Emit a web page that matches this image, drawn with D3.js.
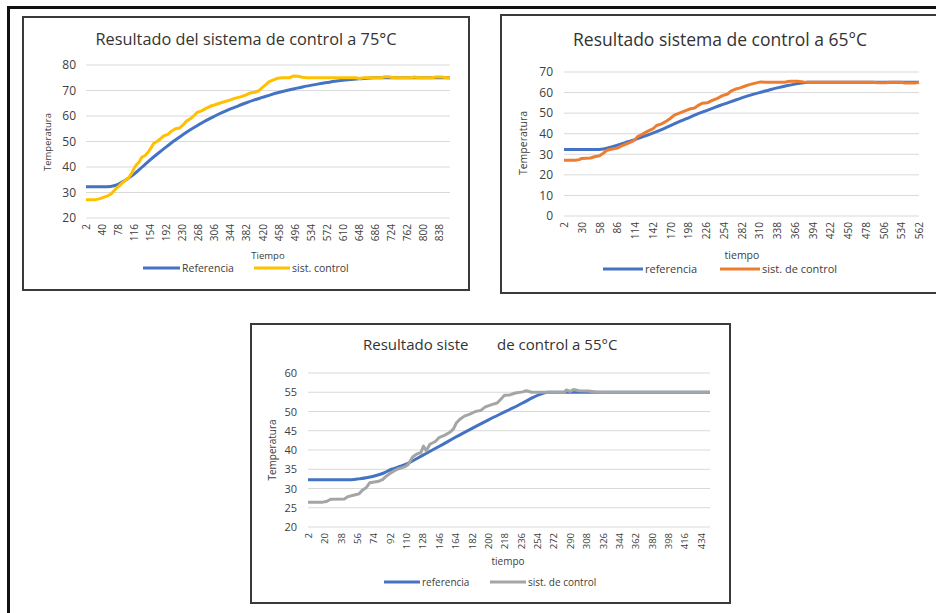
<!DOCTYPE html>
<html><head><meta charset="utf-8">
<script src="https://cdn.jsdelivr.net/npm/d3@7"></script>
<style>
html,body{margin:0;padding:0;background:#fff;}
svg{display:block;font-family:"Open Sans",sans-serif;}
</style></head>
<body>
<svg id="c" width="936" height="613"></svg>
<script>
// ---------- DATA ----------
const ticks75 = [2,40,78,116,154,192,230,268,306,344,382,420,458,496,534,572,610,648,686,724,762,800,838];
const yTicks75 = [20,30,40,50,60,70,80];
const ref75 = [[2,32.3],[40,32.3],[60,32.4],[78,33.2],[95,34.8],[116,37.2],[135,40],[154,42.8],[173,45.4],[192,47.9],[211,50.3],[230,52.5],[249,54.6],[268,56.5],[287,58.3],[306,59.9],[325,61.4],[344,62.8],[363,64],[382,65.2],[401,66.3],[420,67.3],[439,68.3],[458,69.2],[477,70],[496,70.7],[515,71.4],[534,72],[553,72.6],[572,73.1],[591,73.6],[610,74],[629,74.3],[648,74.6],[667,74.8],[686,75],[864,75]];
const ctl75 = [[2,27.2],[25,27.2],[35,27.6],[45,28.2],[55,28.8],[62,29.5],[70,31],[78,32.2],[86,33.5],[95,34.8],[102,35.5],[110,37.5],[116,39.5],[122,41],[128,42],[134,43.8],[142,44.5],[150,46],[156,47.5],[162,49.2],[170,50],[178,51],[186,52.2],[196,52.8],[204,54],[214,55],[224,55.3],[232,56.5],[240,58],[250,59],[258,60.2],[266,61.5],[276,62],[286,63],[296,63.8],[306,64.3],[318,65],[330,65.6],[344,66.3],[356,67],[368,67.5],[380,68.2],[390,69],[402,69.3],[412,70],[420,71.2],[428,72.3],[436,73.5],[446,74.2],[456,74.8],[466,75],[484,75],[494,75.7],[504,75.6],[514,75.2],[524,75],[640,75],[650,74.7],[660,75],[700,75],[710,75.4],[720,75.4],[730,75],[770,75],[780,75.3],[790,75],[820,75],[830,75.3],[845,75.3],[855,75],[864,75]];

const ticks65 = [2,30,58,86,114,142,170,198,226,254,282,310,338,366,394,422,450,478,506,534,562];
const yTicks65 = [0,10,20,30,40,50,60,70];
const ref65 = [[2,32.3],[50,32.3],[64,32.6],[77,33.6],[90,34.8],[103,36.1],[116,37.4],[129,38.8],[142,40.3],[156,42],[169,43.8],[182,45.6],[195,47.3],[208,49],[221,50.6],[235,52.2],[248,53.7],[261,55.1],[274,56.5],[287,57.9],[300,59.1],[314,60.3],[327,61.4],[340,62.4],[353,63.3],[366,64.1],[376,64.6],[386,65],[562,65]];
const ctl65 = [[2,27.1],[20,27.1],[26,27.4],[30,28],[44,28.2],[50,28.8],[58,29.3],[64,30.5],[70,32],[78,32.6],[86,33],[92,34],[100,35],[108,36],[114,37],[118,38.6],[124,39.5],[130,40.5],[136,41.5],[142,42.3],[148,44],[156,44.8],[164,46.2],[170,47.5],[176,49],[184,50],[192,51],[200,52],[208,52.5],[214,53.8],[220,54.8],[228,55],[236,56.2],[244,57.2],[252,58.5],[260,59.3],[266,60.8],[272,61.6],[280,62.3],[288,63.2],[296,64],[304,64.6],[312,65.2],[320,65],[350,65],[358,65.5],[370,65.5],[380,65.2],[390,65],[490,65],[496,64.8],[510,64.8],[516,65],[534,65],[540,64.6],[556,64.6],[562,65]];

const ticks55 = [2,20,38,56,74,92,110,128,146,164,182,200,218,236,254,272,290,308,326,344,362,380,398,416,434];
const yTicks55 = [20,25,30,35,40,45,50,55,60];
const ref55 = [[2,32.3],[50,32.3],[58,32.5],[66,32.8],[74,33.2],[84,33.9],[94,35],[104,35.8],[114,36.8],[128,38.6],[146,40.9],[164,43.3],[183,45.7],[201,47.9],[220,50.1],[238,52.2],[249,53.6],[258,54.5],[266,55],[444,55]];
const ctl55 = [[2,26.4],[17,26.4],[22,26.6],[27,27.2],[42,27.3],[46,27.9],[53,28.3],[58,28.6],[62,29.6],[66,30.2],[70,31.5],[80,31.9],[84,32.3],[88,33.2],[94,34.2],[100,35],[108,35.6],[112,36.2],[117,38.2],[122,39],[126,39.3],[129,41],[132,39.8],[136,41.5],[142,42.2],[146,43.2],[152,43.8],[158,44.6],[162,45.5],[165,47],[169,48],[174,48.8],[180,49.3],[186,50],[192,50.3],[197,51.2],[204,51.8],[210,52.2],[214,53.2],[218,54.2],[224,54.3],[230,54.8],[238,55.1],[242,55.4],[248,55],[284,55],[286,55.6],[290,55.2],[294,55.7],[300,55.4],[310,55.3],[320,55],[444,55]];

// ---------- DRAW ----------
const svg = d3.select("#c");
const TXT = "#404040";

function drawChart(o){
  const g = svg.append("g");
  g.append("rect").attr("x",o.box[0]).attr("y",o.box[1]).attr("width",o.box[2]-o.box[0]).attr("height",o.box[3]-o.box[1])
    .attr("fill","#fff").attr("stroke","#3a3a3a").attr("stroke-width",2);
  const x = d3.scaleLinear().domain(o.xDom).range([o.plot[0],o.plot[1]]);
  const y = d3.scaleLinear().domain(o.yDom).range([o.plot[3],o.plot[2]]);
  // grid
  g.append("g").selectAll("line").data(o.yTicks).join("line")
    .attr("x1",o.plot[0]).attr("x2",o.plot[1]).attr("y1",d=>y(d)).attr("y2",d=>y(d))
    .attr("stroke","#d9d9d9").attr("stroke-width",1);
  // y axis labels
  const ya = d3.axisLeft(y).tickValues(o.yTicks).tickSize(0).tickPadding(o.yPad);
  const yg = g.append("g").attr("transform",`translate(${o.plot[0]},0)`).call(ya);
  yg.select(".domain").remove();
  yg.selectAll("text").attr("fill",TXT).style("font-size",o.yFs+"px").style("font-family","Open Sans");
  // x axis labels (rotated)
  const xa = d3.axisBottom(x).tickValues(o.xTicks).tickSize(0).tickFormat(d3.format("d"));
  const xg = g.append("g").attr("transform",`translate(0,${o.plot[3]})`).call(xa);
  xg.select(".domain").remove();
  xg.selectAll("text").attr("fill",TXT).style("font-size",o.xFs+"px").style("font-family","Open Sans")
    .attr("text-anchor","end").attr("dy","0.35em").attr("y",0)
    .attr("transform",`translate(0,${o.xPad}) rotate(-90)`).attr("x",0);
  // lines
  const line = d3.line().x(d=>x(d[0])).y(d=>y(d[1]));
  const lineS = d3.line().x(d=>x(d[0])).y(d=>y(d[1])).curve(d3.curveMonotoneX);
  g.append("path").datum(o.ref).attr("d",lineS).attr("fill","none").attr("stroke","#4472C4").attr("stroke-width",3).attr("stroke-linejoin","round");
  g.append("path").datum(o.ctl).attr("d",line).attr("fill","none").attr("stroke",o.ctlColor).attr("stroke-width",3).attr("stroke-linejoin","round");
  // titles
  o.title.forEach(t=>{
    g.append("text").attr("x",t[1]).attr("y",o.titleY).attr("text-anchor",t[2]||"middle")
      .attr("fill","#333").style("font-size",o.titleFs+"px").text(t[0]);
  });
  g.append("text").attr("x",o.xTitle[1]).attr("y",o.xTitle[2]).attr("text-anchor","middle")
    .attr("fill",TXT).style("font-size",o.axFs+"px").text(o.xTitle[0]);
  g.append("text").attr("transform",`translate(${o.yTitle[0]},${o.yTitle[1]}) rotate(-90)`).attr("text-anchor","middle")
    .attr("fill",TXT).style("font-size",o.axFs+"px").attr("dy","0.35em").text("Temperatura");
  // legend
  o.legend.forEach(l=>{
    g.append("line").attr("x1",l[1]).attr("x2",l[2]).attr("y1",o.legY).attr("y2",o.legY)
      .attr("stroke",l[3]).attr("stroke-width",3);
    g.append("text").attr("x",l[2]+2).attr("y",o.legY).attr("dy","0.35em")
      .attr("fill",TXT).style("font-size",o.legFs+"px").text(l[0]);
  });
}

// outer frame
svg.append("path").attr("d","M936,7.5 L8.5,7.5 L8.5,613").attr("fill","none").attr("stroke","#111").attr("stroke-width",3);

drawChart({box:[23,17,469,290], plot:[86,450,65,218], xDom:[2,864], yDom:[20,80],
  xTicks:ticks75, yTicks:yTicks75, ref:ref75, ctl:ctl75, ctlColor:"#FFC000",
  title:[["Resultado del sistema de control a 75°C",246]], titleY:45, titleFs:16.3,
  yPad:10, yFs:12, xFs:10, xPad:6, axFs:9.5,
  xTitle:["Tiempo",268,259], yTitle:[48,142],
  legY:268, legFs:10.5, legend:[["Referencia",143,180,"#4472C4"],["sist. control",254,290,"#FFC000"]]});

drawChart({box:[501,15,945,293], plot:[564,919,72,216], xDom:[2,562], yDom:[0,70],
  xTicks:ticks65, yTicks:yTicks65, ref:ref65, ctl:ctl65, ctlColor:"#ED7D31",
  title:[["Resultado sistema de control a 65°C",720]], titleY:46, titleFs:17.5,
  yPad:11, yFs:12, xFs:10, xPad:6, axFs:10.5,
  xTitle:["tiempo",742,259], yTitle:[523,143],
  legY:269, legFs:11, legend:[["referencia",603,643,"#4472C4"],["sist. de control",720,760,"#ED7D31"]]});

drawChart({box:[251,324,730,603], plot:[308,710,373,527], xDom:[2,444], yDom:[20,60],
  xTicks:ticks55, yTicks:yTicks55, ref:ref55, ctl:ctl55, ctlColor:"#A5A5A5",
  title:[["Resultado siste",363,"start"],["de control a 55°C",497,"start"]], titleY:350, titleFs:15,
  yPad:11, yFs:11, xFs:9.5, xPad:6, axFs:10,
  xTitle:["tiempo",508,565], yTitle:[272,450],
  legY:582, legFs:10, legend:[["referencia",384,420,"#4472C4"],["sist. de control",490,526,"#A5A5A5"]]});
</script>
</body></html>
